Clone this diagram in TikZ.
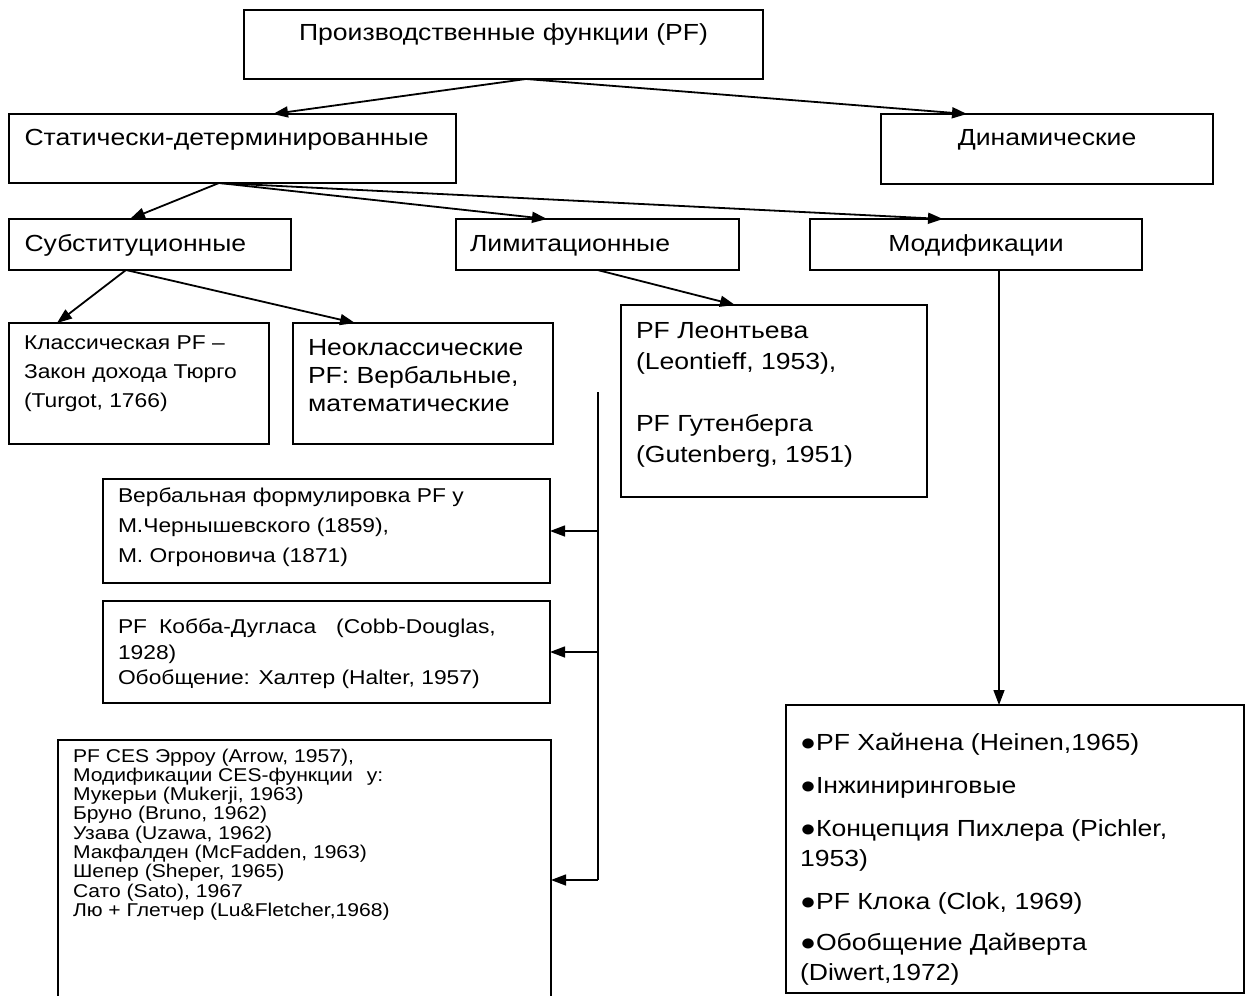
\documentclass[tikz,border=0pt]{standalone}
\usepackage{fontspec}
\setmainfont{Liberation Sans}[FakeStretch=1.14]
\usetikzlibrary{arrows.meta}
\newcommand\fbig{\fontsize{23.3}{30}\selectfont}
\newcommand\fneo{\fontsize{23.3}{28}\selectfont}
\newcommand\fleo{\fontsize{23.3}{31}\selectfont}
\newcommand\fsmk{\fontsize{20}{29}\selectfont}
\newcommand\fsmv{\fontsize{20}{30}\selectfont}
\newcommand\fsmc{\fontsize{20}{25.5}\selectfont}
\newcommand\fces{\fontsize{18.5}{19.3}\selectfont}
\begin{document}
\begin{tikzpicture}[x=1pt,y=-1pt,
  box/.style={draw, line width=1.6pt, inner sep=0pt, outer sep=0pt, anchor=north west},
  txt/.style={inner sep=0pt, outer sep=0pt, align=left, anchor=north west},
  lbl/.style={inner sep=0pt, outer sep=0pt},
  arr/.style={line width=1.8pt, -{Triangle[length=15pt,width=11pt]}},
  arrthin/.style={line width=1.4pt, -{Triangle[length=15pt,width=11pt]}},
  vline/.style={line width=1.4pt}]
\fill[white] (0,0) rectangle (1246,995);
\useasboundingbox (0,0) rectangle (1246,995);

% boxes
\node[box, minimum width=519pt, minimum height=69pt] (top) at (244,10) {};
\node[box, minimum width=447pt, minimum height=69pt] (static) at (9,114) {};
\node[box, minimum width=332pt, minimum height=70pt] (dyn) at (881,114) {};
\node[box, minimum width=282pt, minimum height=51pt] (subst) at (9,219) {};
\node[box, minimum width=283pt, minimum height=51pt] (limit) at (456,219) {};
\node[box, minimum width=332pt, minimum height=51pt] (modif) at (810,219) {};
\node[box, minimum width=260pt, minimum height=121pt] (klass) at (9,323) {};
\node[box, minimum width=260pt, minimum height=121pt] (neo) at (293,323) {};
\node[box, minimum width=306pt, minimum height=192pt] (leon) at (621,305) {};
\node[box, minimum width=447pt, minimum height=104pt] (verb) at (103,479) {};
\node[box, minimum width=447pt, minimum height=102pt] (cobb) at (103,601) {};
\node[box, minimum width=493pt, minimum height=265pt] (ces) at (58,740) {};
\node[box, minimum width=458pt, minimum height=288pt] (dynlist) at (786,705) {};

% texts
\node[lbl, font=\fbig, anchor=base] (ttop) at (503.5,41) {Производственные функции (PF)};
\node[lbl, font=\fbig, anchor=base west] (tstatic) at (24.5,146) {Статически-детерминированные};
\node[lbl, font=\fbig, anchor=base] (tdyn) at (1047,146) {Динамические};
\node[lbl, font=\fbig, anchor=base west] (tsubst) at (24.5,251) {Субституционные};
\node[lbl, font=\fbig, anchor=base west] (tlimit) at (470,251) {Лимитационные};
\node[lbl, font=\fbig, anchor=base] (tmodif) at (976,251) {Модификации};
\node[txt, font=\fsmk] (tklass) at (24,328.7) {\strut Классическая PF –\\Закон дохода Тюрго\\(Turgot, 1766)};
\node[txt, font=\fneo] (tneo) at (308,335.4) {\strut Неоклассические\\PF: Вербальные,\\математические};
\node[txt, font=\fleo] (tleon) at (636,316.3) {\strut PF Леонтьева\\(Leontieff, 1953),\\[31pt]PF Гутенберга\\(Gutenberg, 1951)};
\node[txt, font=\fsmv] (tverb) at (118,481) {\strut Вербальная формулировка PF у\\М.Чернышевского (1859),\\М. Огроновича (1871)};
\node[txt, font=\fsmc] (tcobb) at (118,616) {\strut PF\hspace{12pt}Кобба-Дугласа\hspace{20pt}(Cobb-Douglas,\\1928)\\Обобщение: Халтер (Halter, 1957)};
\node[txt, font=\fces] (tces) at (73,748.5) {\strut PF CES Эрроу (Arrow, 1957),\\Модификации CES-функции\hspace{14pt}у:\\Мукерьи (Mukerji, 1963)\\Бруно (Bruno, 1962)\\Узава (Uzawa, 1962)\\Макфалден (McFadden, 1963)\\Шепер (Sheper, 1965)\\Сато (Sato), 1967\\Лю + Глетчер (Lu\&Fletcher,1968)};
\node[txt, font=\fbig] (tdynlist) at (800,729) {\strut ●PF Хайнена (Heinen,1965)\\[13pt]●Інжиниринговые\\[13pt]●Концепция Пихлера (Pichler,\\1953)\\[13pt]●PF Клока (Clok, 1969)\\[11pt]●Обобщение Дайверта\\(Diwert,1972)};

% connectors
\draw[arr] ([xshift=22.5pt]top.south) -- ([xshift=40.5pt]static.north);
\draw[arr] ([xshift=22.5pt]top.south) -- ([xshift=-80pt]dyn.north);
\draw[arr] ([xshift=-13.5pt]static.south) -- ([xshift=-20pt]subst.north);
\draw[arr] ([xshift=-13.5pt]static.south) -- ([xshift=-50.5pt]limit.north);
\draw[arr] ([xshift=-13.5pt]static.south) -- ([xshift=-33pt]modif.north);
\draw[arr] ([xshift=-24pt]subst.south) -- ([xshift=-82pt]klass.north);
\draw[arr] ([xshift=-24pt]subst.south) -- ([xshift=-68pt]neo.north);
\draw[arr] (limit.south) -- ([xshift=-39pt]leon.north);
\draw[arrthin] ([xshift=23pt]modif.south) -- ([xshift=23pt]modif.south |- dynlist.north);
\coordinate (vt) at (598,392);
\coordinate (vb) at (598,880);
\draw[vline] (vt) -- (vb);
\draw[arrthin] (vt |- verb.east) -- (verb.east);
\draw[arrthin] (vt |- cobb.east) -- (cobb.east);
\draw[arrthin] (vb) -- (vb -| ces.east);
\end{tikzpicture}
\end{document}
